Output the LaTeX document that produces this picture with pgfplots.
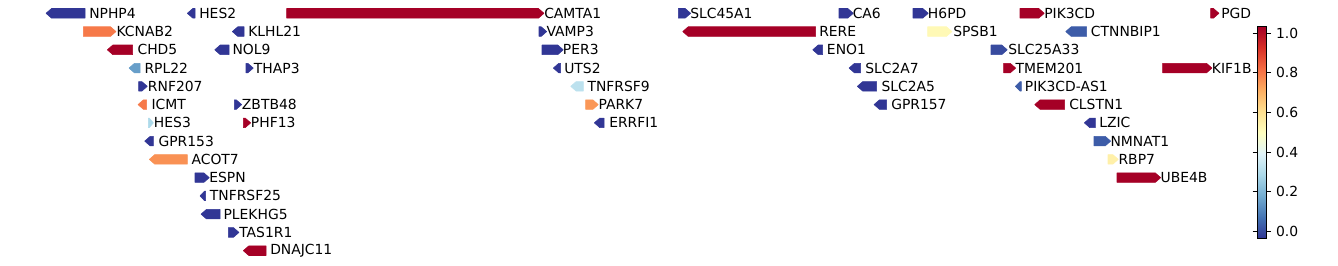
\documentclass[border=0pt]{standalone}
\usepackage{fontspec}
\setmainfont{DejaVu Sans}
\usepackage{pgfplots}
\usepackage{pgfplotstable}
\pgfplotsset{compat=1.18}
\usepgfplotslibrary{patchplots}

% gene table: pixel-scale start/end, track row, strand, colour value, label x
\pgfplotstableread{
name s e r strand val lx
NPHP4 46 85 0 -1 -0.035 90
HES2 187.3 195 0 -1 -0.035 200
CAMTA1 286.7 544 0 1 1.033 545
SLC45A1 678.3 690.7 0 1 -0.035 691
CA6 839 853.3 0 1 -0.035 853.5
H6PD 913 928.3 0 1 -0.035 928.7
PIK3CD 1020 1044.3 0 1 1.033 1045
PGD 1210.7 1219 0 1 1.033 1222
KCNAB2 83.3 116 1 1 0.8 117.3
KLHL21 232.3 244 1 -1 -0.035 249
VAMP3 539 546.7 1 1 -0.035 547.3
RERE 682.7 815.7 1 -1 1.033 820
SPSB1 927.7 952 1 1 0.52 954
CTNNBIP1 1065.7 1086.7 1 -1 0.03 1091.7
CHD5 107.3 132.7 2 -1 1.033 138.3
NOL9 214.7 229 2 -1 -0.035 233.3
PER3 542 563.3 2 1 -0.035 563.7
ENO1 812.7 822.7 2 -1 -0.035 827.7
SLC25A33 991 1007.3 2 1 0.0 1009
RPL22 129 140 3 -1 0.15 145.3
THAP3 246 253.3 3 1 -0.035 254.7
UTS2 553.3 560.7 3 -1 -0.035 565
SLC2A7 849 860.7 3 -1 -0.035 866
TMEM201 1003.7 1015.7 3 1 1.033 1016.3
KIF1B 1162.7 1212 3 1 1.033 1212.7
RNF207 138.7 147.3 4 1 -0.035 148.7
TNFRSF9 570.7 583.3 4 -1 0.32 588.3
SLC2A5 857.3 876.7 4 -1 -0.035 882.3
PIK3CD-AS1 1015.3 1021.3 4 -1 0.03 1025.7
ICMT 138 146.7 5 -1 0.8 152.3
ZBTB48 234.3 241.7 5 1 -0.035 242.7
PARK7 585.7 598.3 5 1 0.75 599.3
GPR157 874 886.7 5 -1 -0.035 892
CLSTN1 1034.7 1064.7 5 -1 1.033 1070
HES3 148.3 153.3 6 1 0.29 154.7
PHF13 243.3 250.7 6 1 1.033 251.7
ERRFI1 594.3 604 6 -1 -0.035 610
LZIC 1084.3 1095.3 6 -1 -0.035 1100
GPR153 144.7 153.3 7 -1 -0.035 159.3
NMNAT1 1094 1110.7 7 1 0.03 1111.3
ACOT7 149.3 187.3 8 -1 0.76 192.3
RBP7 1108 1118.3 8 1 0.55 1119.3
ESPN 195 209.3 9 1 -0.035 210
UBE4B 1117 1160.7 9 1 1.033 1161.3
TNFRSF25 200 205.7 10 -1 -0.035 210.7
PLEKHG5 201 220 11 -1 -0.035 224.3
TAS1R1 228.3 239 12 1 -0.035 240
DNAJC11 243.3 266 13 -1 1.033 271
}\genes

\begin{document}
\begin{tikzpicture}
\begin{axis}[
  scale only axis, width=963.36pt, height=190.8pt,
  xmin=0, xmax=1338, ymin=0, ymax=265, y dir=reverse,
  hide axis, clip=false,
  colormap={RdYlBur}{rgb255=(49,54,149) rgb255=(69,117,180) rgb255=(116,173,209) rgb255=(171,217,233) rgb255=(224,243,248) rgb255=(255,255,191) rgb255=(254,224,144) rgb255=(253,174,97) rgb255=(244,109,67) rgb255=(215,48,39) rgb255=(165,0,38)},
  point meta min=-0.035, point meta max=1.033,
  colorbar,
  colorbar style={
    at={(parent axis.north west)}, anchor=north west,
    xshift=896.76pt, yshift=-19.22pt,
    scale only axis, width=6.48pt, height=152.35pt,
    hide x axis=false, hide y axis=false,
    ytick={0,0.2,0.4,0.6,0.8,1.0},
    yticklabels={0.0,0.2,0.4,0.6,0.8,1.0},
    yticklabel style={font=\fontsize{10}{12}\selectfont},
    major tick length=3.5pt, tick align=outside,
    tick style={black, line width=0.8pt},
    axis line style={line width=0.8pt},
  },
]
% invisible frame spanning the whole figure area
\addplot[draw=none, mark=none, forget plot] coordinates {(0,0) (1338,265)};
\pgfplotstablegetrowsof{\genes}
\pgfmathtruncatemacro\nlast{\pgfplotsretval-1}
\pgfplotsforeachungrouped \i in {0,...,\nlast}{%
  \pgfplotstablegetelem{\i}{s}\of\genes \let\gS\pgfplotsretval
  \pgfplotstablegetelem{\i}{e}\of\genes \let\gE\pgfplotsretval
  \pgfplotstablegetelem{\i}{r}\of\genes \let\gR\pgfplotsretval
  \pgfplotstablegetelem{\i}{strand}\of\genes \let\gD\pgfplotsretval
  \pgfplotstablegetelem{\i}{val}\of\genes \let\gV\pgfplotsretval
  \pgfmathsetmacro\yc{13.3+18.26*\gR}%
  \pgfmathsetmacro\yt{\yc-4.8}%
  \pgfmathsetmacro\yb{\yc+4.8}%
  \pgfmathsetmacro\tip{min(5.5,0.8*(\gE-\gS))}%
  \ifdim\gD pt>0pt
    \pgfmathsetmacro\xa{\gE-\tip}%
    \edef\verts{(\gS,\yt) [\gV] (\xa,\yt) [\gV] (\gE,\yc) [\gV] (\xa,\yb) [\gV] (\gS,\yb) [\gV]}%
  \else
    \pgfmathsetmacro\xa{\gS+\tip}%
    \edef\verts{(\gS,\yc) [\gV] (\xa,\yt) [\gV] (\gE,\yt) [\gV] (\gE,\yb) [\gV] (\xa,\yb) [\gV]}%
  \fi
  \edef\cmd{\noexpand\addplot[patch, patch type=polygon, vertex count=5, shader=flat, point meta=explicit] coordinates {\verts};}%
  \cmd
}
\addplot[draw=none, mark=none, point meta=explicit symbolic,
  nodes near coords,
  nodes near coords style={anchor=west, inner sep=0pt, font=\fontsize{10}{12}\selectfont, text=black}]
  table[x expr=\thisrow{lx}-1, y expr={13.3+18.26*\thisrow{r}}, meta=name] {\genes};
\end{axis}
\end{tikzpicture}
\end{document}
